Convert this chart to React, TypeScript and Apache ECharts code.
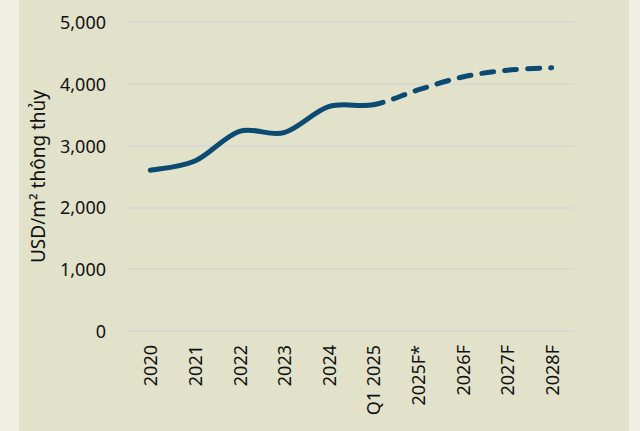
import React, { useEffect, useRef } from "react";
import * as echarts from "echarts";

const categories = ["2020", "2021", "2022", "2023", "2024", "Q1 2025", "2025F*", "2026F", "2027F", "2028F"];
const actualValues = [2600, 2750, 3230, 3210, 3630, 3660];
const forecastValues = [3900, 4110, 4220, 4260];
const yTicks = { min: 0, max: 5000, interval: 1000 };
const yAxisName = "USD/m\u00b2 thông thủy";

const FONT = "Noto Sans";
const LINE_COLOR = "#0b4a72";
const SOLID_SPLIT_T = 0.22;

type P = [number, number];

function bezierSegs(pts: P[]) {
  const segs: P[][] = [];
  for (let i = 0; i < pts.length - 1; i++) {
    const p0 = pts[Math.max(0, i - 1)];
    const p1 = pts[i];
    const p2 = pts[i + 1];
    const p3 = pts[Math.min(pts.length - 1, i + 2)];
    const c1: P = [p1[0] + (p2[0] - p0[0]) / 6, p1[1] + (p2[1] - p0[1]) / 6];
    const c2: P = [p2[0] - (p3[0] - p1[0]) / 6, p2[1] - (p3[1] - p1[1]) / 6];
    segs.push([p1, c1, c2, p2]);
  }
  return segs;
}

function lerp(a: P, b: P, t: number): P {
  return [a[0] + (b[0] - a[0]) * t, a[1] + (b[1] - a[1]) * t];
}

function splitSeg(s: P[], t: number): [P[], P[]] {
  const [a, b, c, d] = s;
  const ab = lerp(a, b, t), bc = lerp(b, c, t), cd = lerp(c, d, t);
  const abc = lerp(ab, bc, t), bcd = lerp(bc, cd, t);
  const m = lerp(abc, bcd, t);
  return [[a, ab, abc, m], [m, bcd, cd, d]];
}

function segsToPath(segs: P[][]) {
  if (!segs.length) return "";
  let d = `M${segs[0][0][0]},${segs[0][0][1]}`;
  for (const s of segs) d += ` C${s[1][0]},${s[1][1]} ${s[2][0]},${s[2][1]} ${s[3][0]},${s[3][1]}`;
  return d;
}

const allValues = [...actualValues, ...forecastValues];
const seriesData = allValues.map((v, i) => [i, v]);

export default function App() {
  const ref = useRef<HTMLDivElement>(null);
  useEffect(() => {
    if (!ref.current) return;
    const chart = echarts.init(ref.current, null, { renderer: "svg" });
    chart.setOption({
      animation: false,
      backgroundColor: "#efefe4",
      graphic: [
        {
          type: "rect",
          z: -10,
          silent: true,
          shape: { x: 19, y: 0, width: 610, height: 431 },
          style: { fill: "#e2e2cb" },
        },
      ],
      grid: { left: 128, right: 66, top: 22, bottom: 100, containLabel: false },
      xAxis: {
        type: "category",
        data: categories,
        boundaryGap: true,
        axisLine: { show: false },
        axisTick: { show: false },
        axisLabel: {
          rotate: 90,
          interval: 0,
          margin: 14,
          fontFamily: FONT,
          fontSize: 18,
          color: "#111111",
        },
      },
      yAxis: {
        type: "value",
        min: yTicks.min,
        max: yTicks.max,
        interval: yTicks.interval,
        name: yAxisName,
        nameLocation: "middle",
        nameGap: 81,
        nameTextStyle: { fontFamily: FONT, fontSize: 19, color: "#111111" },
        axisLine: { show: false },
        axisTick: { show: false },
        axisLabel: {
          margin: 22,
          fontFamily: FONT,
          fontSize: 18,
          color: "#111111",
          formatter: (v: number) => v.toLocaleString("en-US"),
        },
        splitLine: { lineStyle: { color: "#d9d9d4", width: 2 } },
      },
      series: [
        {
          type: "custom",
          data: seriesData,
          encode: { x: 0, y: 1 },
          renderItem: (params: any, api: any) => {
            if (params.dataIndex !== 0) return null;
            const pts: P[] = seriesData.map((d) => api.coord(d) as P);
            const segs = bezierSegs(pts);
            const splitIdx = actualValues.length - 1;
            const [solidTail, dashHead] = splitSeg(segs[splitIdx], SOLID_SPLIT_T);
            const solidSegs = [...segs.slice(0, splitIdx), solidTail];
            const dashSegs = [dashHead, ...segs.slice(splitIdx + 1)];
            return {
              type: "group",
              children: [
                {
                  type: "path",
                  shape: { pathData: segsToPath(solidSegs) },
                  style: { fill: "none", stroke: LINE_COLOR, lineWidth: 5, lineCap: "round", lineJoin: "round" },
                },
                {
                  type: "path",
                  shape: { pathData: segsToPath(dashSegs) },
                  style: {
                    fill: "none",
                    stroke: LINE_COLOR,
                    lineWidth: 5,
                    lineCap: "round",
                    lineJoin: "round",
                    lineDash: [12, 11],
                    lineDashOffset: -11,
                  },
                },
              ],
            };
          },
        },
      ],
    });
    return () => chart.dispose();
  }, []);
  return (
    <div
      ref={ref}
      style={{ position: "fixed", left: 0, top: 0, width: 640, height: 431 }}
    />
  );
}
